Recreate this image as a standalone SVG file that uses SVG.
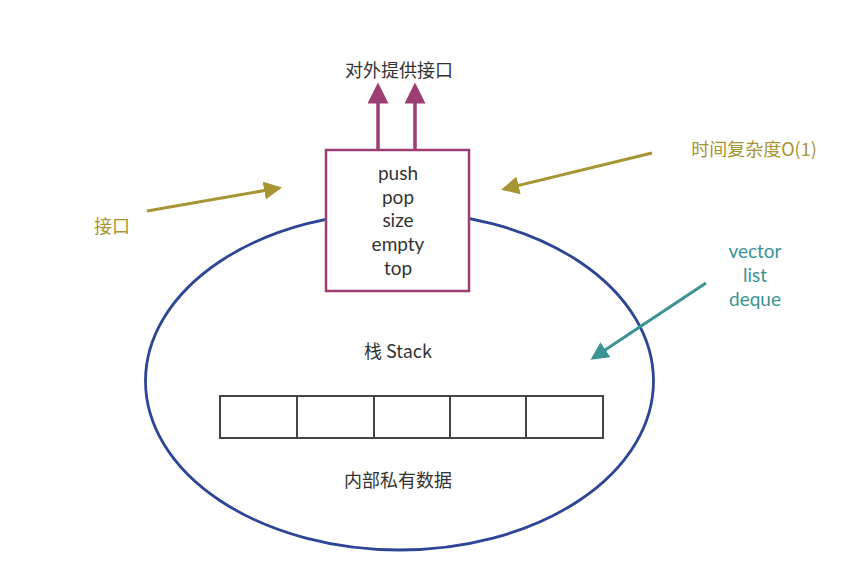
<svg xmlns="http://www.w3.org/2000/svg" width="867" height="588" viewBox="0 0 867 588">
<style>
text{font-family:"Noto Sans CJK SC","Noto Sans",sans-serif;font-size:18px;text-anchor:middle}
text.lt{font-family:Lato,"Noto Sans",sans-serif;font-size:19px}
.dk{fill:#333}
.ol{fill:#a69532}
.tl{fill:#3a9494}
.cell{fill:#fff;stroke:#444;stroke-width:2}
</style>
<defs>
<marker id="mp" markerWidth="6" markerHeight="6" refX="5" refY="3" orient="auto" markerUnits="strokeWidth"><path d="M0,0 L6,3 L0,6 z" fill="#9c3d73"/></marker>
<marker id="mo" markerWidth="6" markerHeight="6" refX="5" refY="3" orient="auto" markerUnits="strokeWidth"><path d="M0,0 L6,3 L0,6 z" fill="#a69532"/></marker>
<marker id="mt" markerWidth="6" markerHeight="6" refX="5" refY="3" orient="auto" markerUnits="strokeWidth"><path d="M0,0 L6,3 L0,6 z" fill="#3a9494"/></marker>
</defs>
<rect width="867" height="588" fill="#fff"/>
<g id="stack">
<ellipse cx="399.5" cy="381" rx="254" ry="169" fill="none" stroke="#2e4596" stroke-width="2.8"/>
<text class="dk" x="398" y="358">栈 Stack</text>
<text class="dk" x="398" y="487">内部私有数据</text>
</g>
<g id="data">
<rect class="cell" x="220" y="396" width="77" height="42"/>
<rect class="cell" x="297" y="396" width="77" height="42"/>
<rect class="cell" x="374" y="396" width="76" height="42"/>
<rect class="cell" x="450" y="396" width="76" height="42"/>
<rect class="cell" x="526" y="396" width="77" height="42"/>
</g>
<g id="interface">
<rect x="326" y="150" width="143" height="141" fill="#fff" stroke="#9c3d73" stroke-width="2.5"/>
<text class="dk lt" x="398" y="180">push</text>
<text class="dk lt" x="398" y="204">pop</text>
<text class="dk lt" x="398" y="227">size</text>
<text class="dk lt" x="398" y="251">empty</text>
<text class="dk lt" x="398" y="275">top</text>
</g>
<g id="labels">
<text class="dk" x="399" y="77">对外提供接口</text>
<text class="ol" x="112" y="233">接口</text>
<text class="ol" x="754" y="156">时间复杂度O(1)</text>
<text class="tl lt" x="755" y="258">vector</text>
<text class="tl lt" x="755" y="282">list</text>
<text class="tl lt" x="755" y="306">deque</text>
</g>
<g id="connectors" fill="none">
<line x1="378" y1="150" x2="378" y2="86" stroke="#9c3d73" stroke-width="3.5" marker-end="url(#mp)"/>
<line x1="415" y1="150" x2="415" y2="86" stroke="#9c3d73" stroke-width="3.5" marker-end="url(#mp)"/>
<line x1="147" y1="211" x2="279" y2="188" stroke="#a69532" stroke-width="3" marker-end="url(#mo)"/>
<line x1="652" y1="153" x2="504" y2="189" stroke="#a69532" stroke-width="3" marker-end="url(#mo)"/>
<line x1="706" y1="283" x2="593" y2="358" stroke="#3a9494" stroke-width="3" marker-end="url(#mt)"/>
</g>
</svg>
